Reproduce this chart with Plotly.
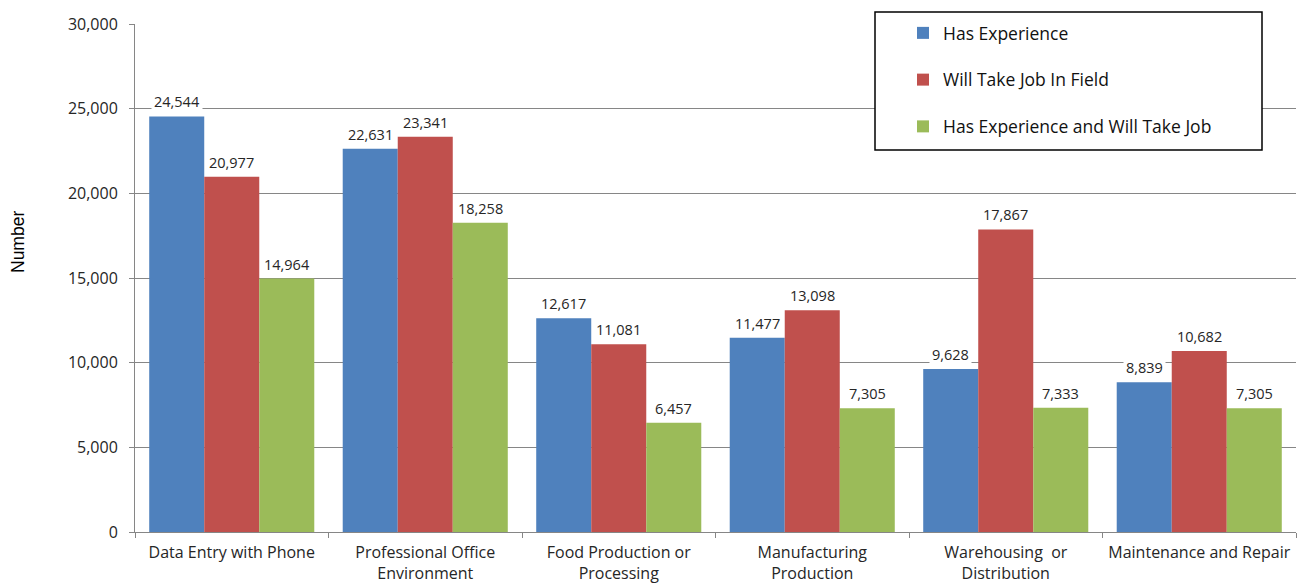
import plotly.graph_objects as go

categories = [
    "Data Entry with Phone",
    "Professional Office<br>Environment",
    "Food Production or<br>Processing",
    "Manufacturing<br>Production",
    "Warehousing\u00a0 or<br>Distribution",
    "Maintenance and Repair",
]
has_experience = [24544, 22631, 12617, 11477, 9628, 8839]
will_take_job = [20977, 23341, 11081, 13098, 17867, 10682]
both = [14964, 18258, 6457, 7305, 7333, 7305]

series_names = ["Has Experience", "Will Take Job In Field", "Has Experience and Will Take Job"]
series_values = [has_experience, will_take_job, both]
colors = ["#4F81BD", "#C0504D", "#9BBB59"]

FONT = "'Open Sans', sans-serif"
TEXT = "#262626"
GRID = "#868686"
BARGAP = 0.147

# plot area in pixels, used to place the frame and axis title
L, R, T, B = 135, 1296, 24, 532
PW, PH = R - L, B - T

fig = go.Figure()
for name, vals, col in zip(series_names, series_values, colors):
    fig.add_trace(go.Bar(
        x=categories, y=vals, name=name, marker_color=col,
        marker_line_width=0, legendgroup=name,
    ))

# value labels above each bar, with a white backing that interrupts gridlines
bar_w = (1 - BARGAP) / len(series_values)
annotations = []
for s, vals in enumerate(series_values):
    off = (s - 1) * bar_w
    for i, v in enumerate(vals):
        annotations.append(dict(
            x=i + off, y=v, xref="x", yref="y", text=f"{v:,}",
            showarrow=False, yanchor="bottom", yshift=2,
            bgcolor="white", borderpad=2,
            font=dict(family=FONT, size=14.5, color=TEXT),
        ))

annotations.append(dict(
    x=(18 - L) / PW, y=(B - 242) / PH, xref="paper", yref="paper",
    xanchor="center", yanchor="middle",
    text="Number", textangle=-90, showarrow=False,
    font=dict(family="'Liberation Sans', Arial, sans-serif", size=17.5, color="black"),
))

fig.update_layout(
    width=1303, height=586,
    margin=dict(l=L, r=1303 - R, t=T, b=586 - B),
    paper_bgcolor="white", plot_bgcolor="white",
    barmode="group", bargap=BARGAP, bargroupgap=0,
    font=dict(family=FONT, size=16, color=TEXT),
    annotations=annotations,
    showlegend=True,
    legend=dict(
        x=(903 - L) / PW, y=(B - 15) / PH, xanchor="left", yanchor="top",
        bgcolor="rgba(0,0,0,0)", borderwidth=0,
        font=dict(family=FONT, size=17.5, color="#111111"),
        tracegroupgap=21, itemwidth=30,
    ),
    xaxis=dict(
        type="category", tickson="boundaries", ticks="outside", ticklen=5,
        tickcolor=GRID, showline=True, linecolor=GRID, linewidth=1,
        showgrid=False, ticklabelstandoff=6, automargin=False,
        tickfont=dict(family=FONT, size=16, color=TEXT),
    ),
    yaxis=dict(
        range=[0, 30000], dtick=5000, tickformat=",", ticks="outside",
        ticklen=5, tickcolor=GRID, showline=True, linecolor=GRID, linewidth=1,
        showgrid=True, gridcolor=GRID, gridwidth=1, zeroline=False,
        ticklabelstandoff=8, automargin=False,
        tickfont=dict(family=FONT, size=16, color=TEXT),
    ),
)

# legend frame
fig.add_shape(
    type="rect", xref="paper", yref="paper",
    x0=(875 - L) / PW, x1=(1262 - L) / PW,
    y0=(B - 150) / PH, y1=(B - 12) / PH,
    line=dict(color="black", width=1.5), fillcolor="white", layer="above",
)

fig.write_html("out.html")
